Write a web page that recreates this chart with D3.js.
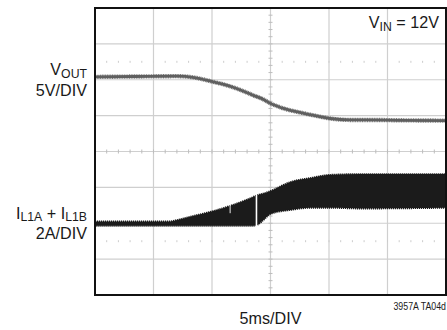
<!DOCTYPE html>
<html>
<head>
<meta charset="utf-8">
<script src="https://cdn.jsdelivr.net/npm/d3@7/dist/d3.min.js"></script>
<style>
html,body{margin:0;padding:0;background:#fff;}
svg{display:block;}
text{font-family:"Liberation Sans",Arial,Helvetica,sans-serif;fill:#1a1a1a;white-space:pre;}
</style>
</head>
<body>
<svg id="chart" width="447" height="330"></svg>
<script>
// time axis in ms (5ms/DIV, 6 visible divisions), vertical in divisions (-4..4)
const xTicks = [0, 5, 10, 15, 20, 25, 30];
const yTicks = [-4, -3, -2, -1, 0, 1, 2, 3, 4];
const dottedRows = [2.5, -2.5];

// VOUT trace (divisions), 5V/DIV
const voutT = [0, 3.4, 7.0, 8.5, 10.1, 11.0, 11.8, 12.7, 13.5, 14.4, 15.0, 15.6, 16.1, 16.8, 17.5, 18.8, 20.1, 21.8, 23.3, 26.1, 30];
const voutV = [2.08, 2.09, 2.10, 2.06, 1.94, 1.87, 1.79, 1.68, 1.57, 1.45, 1.34, 1.26, 1.20, 1.14, 1.09, 1.00, 0.92, 0.88, 0.88, 0.87, 0.86];

// IL1A + IL1B switching envelope (divisions), 2A/DIV
const ilT      = [0, 6.4, 7.0, 8.1, 10.1, 11.5, 13.5, 13.9, 14.3, 15.0, 16.7, 18.4, 20.1, 22.7, 30];
const ilTop    = [-1.95, -1.95, -1.91, -1.82, -1.66, -1.52, -1.27, -1.21, -1.18, -1.10, -0.85, -0.74, -0.65, -0.63, -0.63];
const ilBottom = [-2.07, -2.07, -2.07, -2.07, -2.07, -2.07, -2.07, -2.04, -1.94, -1.74, -1.63, -1.57, -1.57, -1.59, -1.57];
// dropouts in the current trace (ms, from-div, to-div)
const glitchT = [13.8, 11.55];
const glitchFrom = [-1.15, -1.47];
const glitchTo = [-2.1, -1.72];

const svg = d3.select("#chart");
const L = 95, R = 446, T = 8, B = 295;
const x = d3.scaleLinear().domain([0, 30]).range([L, R]);
const y = d3.scaleLinear().domain([-4, 4]).range([B, T]);

// grid
const g = svg.append("g");
g.selectAll("line.v").data(xTicks.slice(1, -1)).join("line")
  .attr("x1", d => x(d)).attr("x2", d => x(d)).attr("y1", T).attr("y2", B)
  .attr("stroke", "#cfcfcf").attr("stroke-width", 1.2);
g.selectAll("line.h").data(yTicks.slice(1, -1)).join("line")
  .attr("y1", d => y(d)).attr("y2", d => y(d)).attr("x1", L).attr("x2", R)
  .attr("stroke", "#cfcfcf").attr("stroke-width", 1.2);

// minor ticks on center axes
const minorX = d3.range(0, 30.001, 1);
const minorY = d3.range(-4, 4.001, 0.2);
g.selectAll("line.mx").data(minorX).join("line")
  .attr("x1", d => x(d)).attr("x2", d => x(d))
  .attr("y1", y(0) - 2).attr("y2", y(0) + 2)
  .attr("stroke", "#bdbdbd").attr("stroke-width", 1);
g.selectAll("line.my").data(minorY).join("line")
  .attr("y1", d => y(d)).attr("y2", d => y(d))
  .attr("x1", x(15) - 2).attr("x2", x(15) + 2)
  .attr("stroke", "#bdbdbd").attr("stroke-width", 1);
// dotted rows
dottedRows.forEach(r => {
  g.selectAll(null).data(minorX.slice(1, -1)).join("line")
    .attr("x1", d => x(d)).attr("x2", d => x(d))
    .attr("y1", y(r) - 1).attr("y2", y(r) + 1)
    .attr("stroke", "#cccccc").attr("stroke-width", 1);
});

// clip
svg.append("clipPath").attr("id", "clip").append("rect")
  .attr("x", L).attr("y", T).attr("width", R - L).attr("height", B - T);

const plot = svg.append("g").attr("clip-path", "url(#clip)");

// IL envelope
const ilData = ilT.map((t, i) => ({t, top: ilTop[i], bot: ilBottom[i]}));
const area = d3.area().x(d => x(d.t)).y0(d => y(d.bot)).y1(d => y(d.top)).curve(d3.curveMonotoneX);
plot.append("path").datum(ilData).attr("d", area)
  .attr("fill", "#1b1b1b").attr("stroke", "#1b1b1b").attr("stroke-width", 1.8)
  .attr("stroke-dasharray", "1.2,0.8");
plot.selectAll("line.gl").data(glitchT).join("line")
  .attr("x1", d => x(d)).attr("x2", d => x(d))
  .attr("y1", (d, i) => y(glitchFrom[i])).attr("y2", (d, i) => y(glitchTo[i]))
  .attr("stroke", "#fff").attr("stroke-width", (d, i) => i === 0 ? 1.6 : 0.9);

// VOUT trace
const voutData = voutT.map((t, i) => ({t, v: voutV[i]}));
const line = d3.line().x(d => x(d.t)).y(d => y(d.v)).curve(d3.curveMonotoneX);
plot.append("path").datum(voutData).attr("d", line)
  .attr("fill", "none").attr("stroke", "#7a7a7a").attr("stroke-width", 4.4)
  .attr("stroke-dasharray", "1,0.7");
plot.append("path").datum(voutData).attr("d", line)
  .attr("fill", "none").attr("stroke", "#5f5f5f").attr("stroke-width", 2.8);

// frame
svg.append("rect").attr("x", L).attr("y", T).attr("width", R - L).attr("height", B - T)
  .attr("fill", "none").attr("stroke", "#111").attr("stroke-width", 2);

// labels built from separate text pieces (main + subscripts)
function label(px, py, anchor, size, sx, parts) {
  const grp = svg.append("g");
  const inner = grp.append("g");
  let cx = 0;
  parts.forEach(p => {
    const fs = p.sub ? size * 0.76 : size;
    const t = inner.append("text").attr("x", cx).attr("y", p.sub ? 2.5 : 0)
      .attr("font-size", fs).text(p.s);
    cx += t.node().getComputedTextLength();
  });
  const w = cx * sx;
  const off = anchor === "end" ? -w : anchor === "middle" ? -w / 2 : 0;
  grp.attr("transform", `translate(${px + off},${py})`);
  inner.attr("transform", `scale(${sx},1)`);
  return grp;
}
label(439, 28, "end", 17, 0.95, [{s: "V"}, {s: "IN", sub: true}, {s: " = 12V"}]);
label(87, 75, "end", 17, 0.95, [{s: "V"}, {s: "OUT", sub: true}]);
label(87, 96, "end", 17, 0.95, [{s: "5V/DIV"}]);
label(87, 218.5, "end", 17, 0.95, [{s: "I"}, {s: "L1A", sub: true}, {s: " + I"}, {s: "L1B", sub: true}]);
label(87, 239, "end", 17, 0.95, [{s: "2A/DIV"}]);
label(x(15), 324, "middle", 17, 0.95, [{s: "5ms/DIV"}]);
label(446, 310, "end", 10, 0.88, [{s: "3957A TA04d"}]);
</script>
</body>
</html>
